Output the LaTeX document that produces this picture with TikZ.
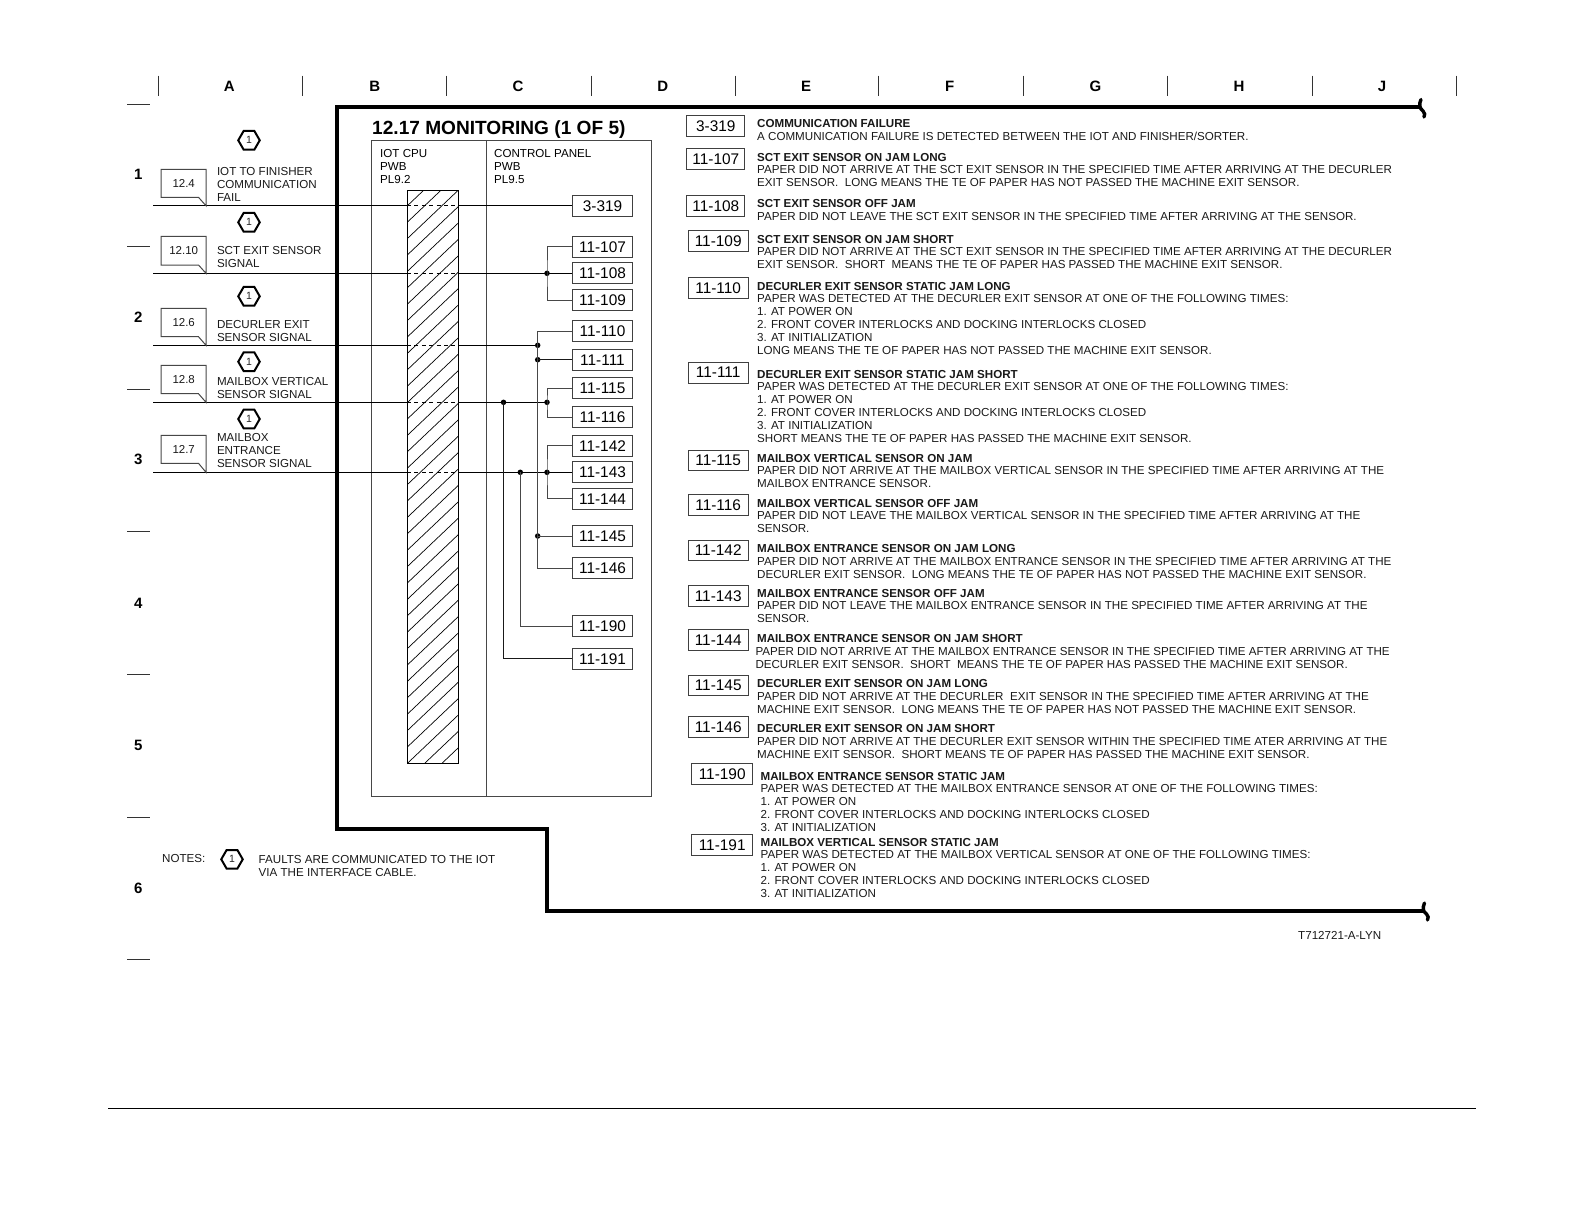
\documentclass[tikz,border=0pt]{standalone}
\usepackage{fontspec}
\setmainfont{Liberation Sans}
\usetikzlibrary{shapes.geometric,calc}
\newcommand{\fz}[1]{\fontsize{#1}{13}\selectfont}
\tikzset{
  frame/.style={draw=black!72,line width=1pt},
  hatchline/.style={draw=black,line width=0.7pt},
  signal/.style={draw=black,line width=1pt},
  signaldash/.style={draw=black,line width=0.9pt,dash pattern=on 4pt off 3.4pt},
  bus/.style={draw=black!72,line width=1pt},
  busdark/.style={draw=black!90,line width=1pt},
  thickline/.style={draw=black,line width=4pt,line join=miter},
  squiggle/.style={draw=black,line width=3.4pt,line cap=round},
  tick/.style={draw=black!80,line width=1pt},
  coltext/.style={font=\fz{15}\bfseries,inner sep=0pt},
  lbl/.style={font=\fz{11.6},inner sep=0pt,anchor=north west,align=left,text=black!90},
  desctext/.style={font=\fz{11.6},inner sep=0pt,anchor=north west,align=left,text=black!90},
  jambox/.style={draw=black!75,line width=1pt,minimum width=59.6pt,minimum height=20.8pt,inner sep=0pt,font=\fz{15.4}},
  dotj/.style={circle,fill=black,inner sep=0pt,minimum size=5.5pt},
  hexa/.style={regular polygon,regular polygon sides=6,minimum size=21.5pt,inner sep=0pt,draw=black,line width=2pt,font=\fz{10.5},text=black!85},
  reftext/.style={font=\fz{11.5},inner sep=0pt,text=black!90},
}
% callout: name, y top, y bottom, y signal, text
\newcommand{\refcall}[5]{%
  \draw[frame] (161,#2) -- (206,#2) -- (206,#4) -- (198.5,#3) -- (161,#3) -- cycle;
  \node[reftext] (#1) at (183.7,{(#2+#3)/2}) {#5};
}
% description: name, x, y of first-line cap centre, heading, body
\newcommand{\desc}[5]{%
  \node[desctext] (#1) at (#2,#3-4) {\textbf{#4}\\[-0.4pt]#5};
}
\newcommand{\itm}[1]{#1.\ \kern1pt}
\begin{document}
\begin{tikzpicture}[x=1pt,y=-1pt]
\useasboundingbox (0,0) rectangle (1584,1224);
% top column ticks
\foreach \tx in {158.6,302,446.5,591,735.4,878.9,1023.3,1167.8,1312.2,1456.7}
  \draw[tick] (\tx,75.5) -- (\tx,95.5);
\node[coltext] (colA) at (229.3,86) {A};
\node[coltext] (colB) at (374.8,86) {B};
\node[coltext] (colC) at (518,86) {C};
\node[coltext] (colD) at (662.7,86) {D};
\node[coltext] (colE) at (806,86) {E};
\node[coltext] (colF) at (949.6,86) {F};
\node[coltext] (colG) at (1095.5,86) {G};
\node[coltext] (colH) at (1239,86) {H};
\node[coltext] (colJ) at (1382,86) {J};
% row ticks
\foreach \ty in {104,246.5,389,531.4,674.8,817,959.7}
  \draw[tick] (127,\ty) -- (149.5,\ty);
\node[coltext] (row1) at (138.4,174.8) {1};
\node[coltext] (row2) at (138.4,317.2) {2};
\node[coltext] (row3) at (138.4,459.6) {3};
\node[coltext] (row4) at (138.4,603) {4};
\node[coltext] (row5) at (138.4,745.5) {5};
\node[coltext] (row6) at (138.4,888) {6};
% thick boundary
\draw[thickline] (1421,107) -- (337,107) -- (337,829) -- (546.7,829) -- (546.7,911) -- (1425,911);
\draw[squiggle] (1421,99.5) .. controls (1419,104) and (1419,108) .. (1423,111) .. controls (1425,113) and (1425,115) .. (1424,117);
\draw[squiggle] (1424.5,903) .. controls (1422.5,908) and (1422.5,911) .. (1426.5,914) .. controls (1428.5,916) and (1428.5,918) .. (1427.5,920);
% title and PWB frame
\node[inner sep=0pt,anchor=west,font=\fz{19.1}\bfseries] (title) at (372,129.6) {12.17 MONITORING (1 OF 5)};
\node[frame,inner sep=0pt,minimum width=279.8pt,minimum height=655.6pt] (pwb) at (511.7,468.2) {};
\draw[frame] (pwb.north west -| 486,0) coordinate (divt) -- (pwb.south west -| 486,0) coordinate (divb);
\node[lbl,text=black] (iot) at (380,149.3) {IOT CPU\\PWB\\PL9.2};
\node[lbl,text=black] (cp) at (494,149.3) {CONTROL PANEL\\PWB\\PL9.5};
% hatched block
\begin{scope}
  \clip (407,190) rectangle (458.6,763.7);
  \foreach \k in {-20,...,23}
    \draw[hatchline] (407,452.3+16.4*\k+49) -- (458.6,452.3+16.4*\k);
\end{scope}
\node[draw=black,line width=1pt,inner sep=0pt,minimum width=51.6pt,minimum height=573.7pt] (hatch) at (432.8,476.85) {};
% diagram jam boxes
\node[jambox] (b319) at (602.5,205.7) {3-319};
\node[jambox] (b107) at (602.5,246.8) {11-107};
\node[jambox] (b108) at (602.5,273.3) {11-108};
\node[jambox] (b109) at (602.5,300) {11-109};
\node[jambox] (b110) at (602.5,331) {11-110};
\node[jambox] (b111) at (602.5,359.7) {11-111};
\node[jambox] (b115) at (602.5,388.3) {11-115};
\node[jambox] (b116) at (602.5,417) {11-116};
\node[jambox] (b142) at (602.5,445.7) {11-142};
\node[jambox] (b143) at (602.5,472.3) {11-143};
\node[jambox] (b144) at (602.5,498.8) {11-144};
\node[jambox] (b145) at (602.5,536) {11-145};
\node[jambox] (b146) at (602.5,568.3) {11-146};
\node[jambox] (b190) at (602.5,626) {11-190};
\node[jambox] (b191) at (602.5,658.8) {11-191};
% junctions
\node[dotj] (j108) at (547,273.3) {};
\node[dotj] (j110) at (537.7,345.3) {};
\node[dotj] (j111) at (537.7,359.7) {};
\node[dotj] (j145) at (537.7,536) {};
\node[dotj] (j115) at (547,402.3) {};
\node[dotj] (j191) at (503.5,402.3) {};
\node[dotj] (j190) at (520.3,472.3) {};
\node[dotj] (j143) at (547,472.3) {};
% signal start points and hatch crossings
\coordinate (s1) at (153.4,205.7);
\coordinate (s2) at (153.4,273.3);
\coordinate (s3) at (153.4,345.3);
\coordinate (s4) at (153.4,402.3);
\coordinate (s5) at (153.4,472.3);
\foreach \n/\yy in {1/205.7,2/273.3,3/345.3,4/402.3,5/472.3}{
  \coordinate (hl\n) at (407,\yy);
  \coordinate (hr\n) at (458.6,\yy);
  \draw[signal] (s\n) -- (hl\n);
  \draw[signaldash] (hl\n) -- (hr\n);
}
\draw[signal] (hr1) -- (b319.west);
\draw[signal] (hr2) -- (b108.west);
\draw[signal] (hr3) -- (j110.center);
\draw[signal] (hr4) -- (j115.center);
\draw[signal] (hr5) -- (b143.west);
% branch wiring
\draw[bus] (b107.west) -| (j108.center) |- (b109.west);
\draw[bus] (b110.west) -| (j110.center) -- (j111.center) -- (j145.center) |- (b146.west);
\draw[busdark] (j111.center) -- (b111.west);
\draw[bus] (j145.center) -- (b145.west);
\draw[bus] (b115.west) -| (j115.center) |- (b116.west);
\draw[bus] (b142.west) -| (j143.center) |- (b144.west);
\draw[bus] (j190.center) |- (b190.west);
\draw[busdark] (j191.center) |- (b191.west);
% left callouts
\refcall{r124}{169.3}{197.3}{205.7}{12.4}
\refcall{r1210}{236.3}{265}{273.3}{12.10}
\refcall{r126}{308.3}{336.7}{345.3}{12.6}
\refcall{r128}{365.3}{393.7}{402.3}{12.8}
\refcall{r127}{435.3}{463.3}{472.3}{12.7}
% left labels
\node[lbl] (l1) at (216.8,167.6) {IOT TO FINISHER\\COMMUNICATION\\FAIL};
\node[lbl] (l2) at (216.8,246.6) {SCT EXIT SENSOR\\SIGNAL};
\node[lbl] (l3) at (216.8,320) {DECURLER EXIT\\SENSOR SIGNAL};
\node[lbl] (l4) at (216.8,377.1) {MAILBOX VERTICAL\\SENSOR SIGNAL};
\node[lbl] (l5) at (216.8,433) {MAILBOX\\ENTRANCE\\SENSOR SIGNAL};
% hexagons
\node[hexa] (h1) at (249,140.3) {1};
\node[hexa] (h2) at (249,222.3) {1};
\node[hexa] (h3) at (249,296.3) {1};
\node[hexa] (h4) at (249,361.7) {1};
\node[hexa] (h5) at (249,419) {1};
% notes
\node[lbl] (notes) at (162,854.3) {NOTES:};
\node[hexa] (h6) at (232,859.3) {1};
\node[lbl] (notetext) at (258.5,855.3) {FAULTS ARE COMMUNICATED TO THE IOT\\VIA THE INTERFACE CABLE.};
% legend boxes
\node[jambox,minimum width=58.3pt,minimum height=20.3pt] (k319) at (715.8,126.1) {3-319};
\node[jambox,minimum width=58.3pt,minimum height=20.7pt] (k107) at (715.8,159) {11-107};
\node[jambox,minimum width=58.3pt,minimum height=20.6pt] (k108) at (715.8,205.7) {11-108};
\node[jambox,minimum width=59.7pt] (k109) at (718.2,241) {11-109};
\node[jambox,minimum width=59.7pt] (k110) at (718.2,288) {11-110};
\node[jambox,minimum width=59.7pt] (k111) at (718.2,372.6) {11-111};
\node[jambox,minimum width=59.7pt] (k115) at (718.2,460.4) {11-115};
\node[jambox,minimum width=59.7pt] (k116) at (718.2,505.2) {11-116};
\node[jambox,minimum width=59.7pt] (k142) at (718.2,550.5) {11-142};
\node[jambox,minimum width=59.7pt] (k143) at (718.2,595.7) {11-143};
\node[jambox,minimum width=59.7pt] (k144) at (718.2,640.3) {11-144};
\node[jambox,minimum width=59.7pt] (k145) at (718.2,685.5) {11-145};
\node[jambox,minimum width=59.7pt] (k146) at (718.2,726.7) {11-146};
\node[jambox,minimum width=61pt] (k190) at (722.2,773.8) {11-190};
\node[jambox,minimum width=61pt] (k191) at (722.2,845.3) {11-191};
% legend text
\desc{d319}{757}{123.3}{COMMUNICATION FAILURE}{A COMMUNICATION FAILURE IS DETECTED BETWEEN THE IOT AND FINISHER/SORTER.}
\desc{d107}{757}{156.7}{SCT EXIT SENSOR ON JAM LONG}{PAPER DID NOT ARRIVE AT THE SCT EXIT SENSOR IN THE SPECIFIED TIME AFTER ARRIVING AT THE DECURLER\\EXIT SENSOR.\ \ LONG MEANS THE TE OF PAPER HAS NOT PASSED THE MACHINE EXIT SENSOR.}
\desc{d108}{757}{203.3}{SCT EXIT SENSOR OFF JAM}{PAPER DID NOT LEAVE THE SCT EXIT SENSOR IN THE SPECIFIED TIME AFTER ARRIVING AT THE SENSOR.}
\desc{d109}{757}{239}{SCT EXIT SENSOR ON JAM SHORT}{PAPER DID NOT ARRIVE AT THE SCT EXIT SENSOR IN THE SPECIFIED TIME AFTER ARRIVING AT THE DECURLER\\EXIT SENSOR.\ \ SHORT\ \ MEANS THE TE OF PAPER HAS PASSED THE MACHINE EXIT SENSOR.}
\desc{d110}{757}{285.7}{DECURLER EXIT SENSOR STATIC JAM LONG}{PAPER WAS DETECTED AT THE DECURLER EXIT SENSOR AT ONE OF THE FOLLOWING TIMES:\\\itm{1}AT POWER ON\\\itm{2}FRONT COVER INTERLOCKS AND DOCKING INTERLOCKS CLOSED\\\itm{3}AT INITIALIZATION\\LONG MEANS THE TE OF PAPER HAS NOT PASSED THE MACHINE EXIT SENSOR.}
\desc{d111}{757}{374}{DECURLER EXIT SENSOR STATIC JAM SHORT}{PAPER WAS DETECTED AT THE DECURLER EXIT SENSOR AT ONE OF THE FOLLOWING TIMES:\\\itm{1}AT POWER ON\\\itm{2}FRONT COVER INTERLOCKS AND DOCKING INTERLOCKS CLOSED\\\itm{3}AT INITIALIZATION\\SHORT MEANS THE TE OF PAPER HAS PASSED THE MACHINE EXIT SENSOR.}
\desc{d115}{757}{458}{MAILBOX VERTICAL SENSOR ON JAM}{PAPER DID NOT ARRIVE AT THE MAILBOX VERTICAL SENSOR IN THE SPECIFIED TIME AFTER ARRIVING AT THE\\MAILBOX ENTRANCE SENSOR.}
\desc{d116}{757}{503}{MAILBOX VERTICAL SENSOR OFF JAM}{PAPER DID NOT LEAVE THE MAILBOX VERTICAL SENSOR IN THE SPECIFIED TIME AFTER ARRIVING AT THE\\SENSOR.}
\desc{d142}{757}{548.3}{MAILBOX ENTRANCE SENSOR ON JAM LONG}{PAPER DID NOT ARRIVE AT THE MAILBOX ENTRANCE SENSOR IN THE SPECIFIED TIME AFTER ARRIVING AT THE\\DECURLER EXIT SENSOR.\ \ LONG MEANS THE TE OF PAPER HAS NOT PASSED THE MACHINE EXIT SENSOR.}
\desc{d143}{757}{592.7}{MAILBOX ENTRANCE SENSOR OFF JAM}{PAPER DID NOT LEAVE THE MAILBOX ENTRANCE SENSOR IN THE SPECIFIED TIME AFTER ARRIVING AT THE\\SENSOR.}
\desc{d144}{755.3}{638.3}{\hspace*{1.7pt}MAILBOX ENTRANCE SENSOR ON JAM SHORT}{PAPER DID NOT ARRIVE AT THE MAILBOX ENTRANCE SENSOR IN THE SPECIFIED TIME AFTER ARRIVING AT THE\\DECURLER EXIT SENSOR.\ \ SHORT\ \ MEANS THE TE OF PAPER HAS PASSED THE MACHINE EXIT SENSOR.}
\desc{d145}{757}{683.3}{DECURLER EXIT SENSOR ON JAM LONG}{PAPER DID NOT ARRIVE AT THE DECURLER\ \ EXIT SENSOR IN THE SPECIFIED TIME AFTER ARRIVING AT THE\\MACHINE EXIT SENSOR.\ \ LONG MEANS THE TE OF PAPER HAS NOT PASSED THE MACHINE EXIT SENSOR.}
\desc{d146}{757}{728.3}{DECURLER EXIT SENSOR ON JAM SHORT}{PAPER DID NOT ARRIVE AT THE DECURLER EXIT SENSOR WITHIN THE SPECIFIED TIME ATER ARRIVING AT THE\\MACHINE EXIT SENSOR.\ \ SHORT MEANS TE OF PAPER HAS PASSED THE MACHINE EXIT SENSOR.}
\desc{d190}{760.5}{775.7}{MAILBOX ENTRANCE SENSOR STATIC JAM}{PAPER WAS DETECTED AT THE MAILBOX ENTRANCE SENSOR AT ONE OF THE FOLLOWING TIMES:\\\itm{1}AT POWER ON\\\itm{2}FRONT COVER INTERLOCKS AND DOCKING INTERLOCKS CLOSED\\\itm{3}AT INITIALIZATION}
\desc{d191}{760.5}{841.7}{MAILBOX VERTICAL SENSOR STATIC JAM}{PAPER WAS DETECTED AT THE MAILBOX VERTICAL SENSOR AT ONE OF THE FOLLOWING TIMES:\\\itm{1}AT POWER ON\\\itm{2}FRONT COVER INTERLOCKS AND DOCKING INTERLOCKS CLOSED\\\itm{3}AT INITIALIZATION}
% part number and footer rule
\node[inner sep=0pt,anchor=west,font=\fz{11.6},text=black!90] (partno) at (1298,935.5) {T712721-A-LYN};
\draw[draw=black,line width=1pt] (108,1108.3) -- (1476,1108.3);
\end{tikzpicture}
\end{document}
